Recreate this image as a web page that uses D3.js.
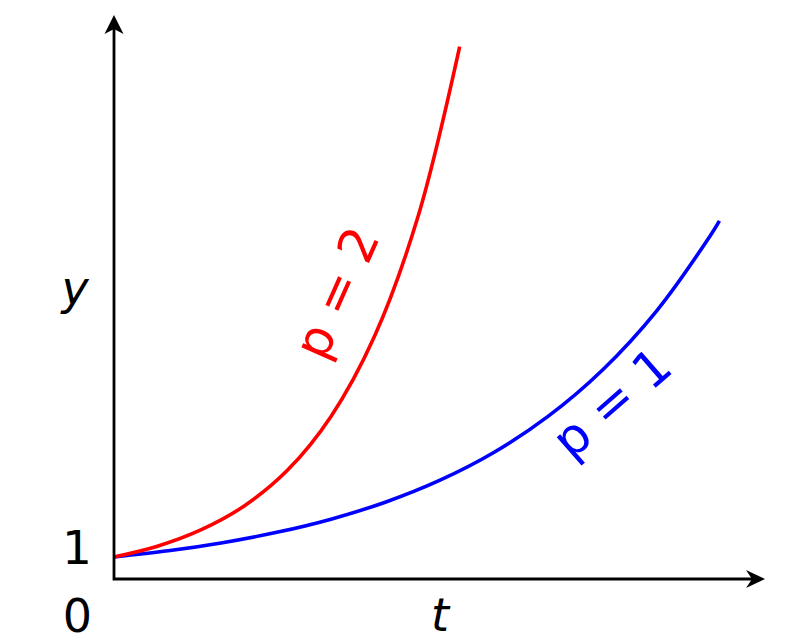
<!DOCTYPE html>
<html><head><meta charset="utf-8">
<script src="https://cdn.jsdelivr.net/npm/d3@7/dist/d3.min.js"></script>
<style>html,body{margin:0;padding:0;background:#fff;}svg{display:block;}</style>
</head><body>
<svg id="chart" width="789" height="643"></svg>
<script>
// t values and y values
const tBlue = [0, 0.25, 0.5, 0.75, 1.0, 1.25, 1.5, 1.75, 2.0, 2.25, 2.5, 2.75, 2.79];
const yBlue = [1, 1.28, 1.65, 2.12, 2.72, 3.49, 4.48, 5.75, 7.39, 9.49, 12.18, 15.64, 16.28];
const tRed = [0, 0.2, 0.4, 0.6, 0.8, 1.0, 1.2, 1.4, 1.593];
const yRed = [1, 1.49, 2.23, 3.32, 4.95, 7.39, 11.02, 16.44, 24.2];
const seriesLabels = ["p = 1", "p = 2"];
const yTickLabels = ["0", "1"];
const axisLabels = ["t", "y"];

const svg = d3.select("#chart");
const x = d3.scaleLinear().domain([0, 3]).range([114, 765]);
const y = d3.scaleLinear().domain([0, 25.5]).range([579, 18]);
const font = "'DejaVu Sans', sans-serif";

const line = d3.line().x(d => x(d[0])).y(d => y(d[1])).curve(d3.curveCatmullRom.alpha(0.5));
svg.append("path").datum(tBlue.map((t, i) => [t, yBlue[i]]))
  .attr("d", line).attr("fill", "none").attr("stroke", "#0000ff").attr("stroke-width", 3.6);
svg.append("path").datum(tRed.map((t, i) => [t, yRed[i]]))
  .attr("d", line).attr("fill", "none").attr("stroke", "#ff0000").attr("stroke-width", 3.6);

// axes
const x0 = x(0), y0 = y(0), xEnd = x(3), yEnd = y(25.5);
svg.append("path").attr("d", `M${x0},${yEnd + 10}L${x0},${y0}L${xEnd - 10},${y0}`)
  .attr("fill", "none").attr("stroke", "#000").attr("stroke-width", 2.8).attr("stroke-linejoin", "miter");
// arrowheads
svg.append("path").attr("fill", "#000")
  .attr("d", `M${x0},${yEnd - 3}L${x0 + 9.5},${yEnd + 16}L${x0},${yEnd + 11}L${x0 - 9.5},${yEnd + 16}Z`);
svg.append("path").attr("fill", "#000")
  .attr("d", `M${xEnd},${y0}L${xEnd - 19},${y0 + 9}L${xEnd - 13},${y0}L${xEnd - 19},${y0 - 9}Z`);

// tick labels
svg.append("text").attr("x", 92).attr("y", 564).attr("text-anchor", "end")
  .attr("font-family", font).attr("font-size", 47).text(yTickLabels[1]);
svg.append("text").attr("x", 92).attr("y", 632).attr("text-anchor", "end")
  .attr("font-family", font).attr("font-size", 46).text(yTickLabels[0]);

// axis labels
svg.append("text").attr("x", 75).attr("y", 304).attr("text-anchor", "middle")
  .attr("font-family", font).attr("font-style", "italic").attr("font-size", 46).text(axisLabels[1]);
svg.append("text").attr("x", 440).attr("y", 631).attr("text-anchor", "middle")
  .attr("font-family", font).attr("font-style", "italic").attr("font-size", 46).text(axisLabels[0]);

// series labels
svg.append("text").attr("transform", "translate(337,293) rotate(-66)")
  .attr("text-anchor", "middle").attr("y", 17).attr("fill", "#ff0000")
  .attr("font-family", font).attr("font-size", 50).style("white-space", "pre").text(seriesLabels[1]);
svg.append("text").attr("transform", "translate(612,403) rotate(-41)")
  .attr("text-anchor", "middle").attr("y", 17).attr("fill", "#0000ff")
  .attr("font-family", font).attr("font-size", 50).style("white-space", "pre").text(seriesLabels[0]);
</script>
</body></html>
